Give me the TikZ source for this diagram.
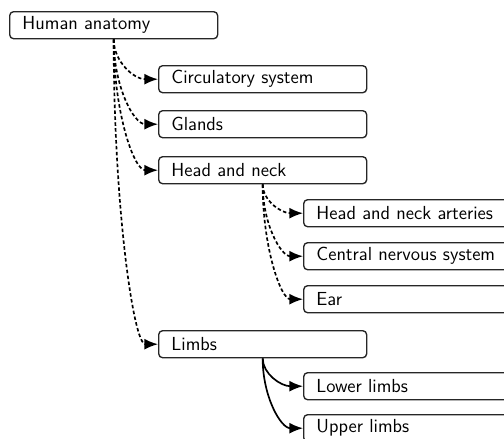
\documentclass[tikz,border=0pt]{standalone}
\usetikzlibrary{arrows.meta,calc}
\begin{document}
\begin{tikzpicture}[x=0.625pt,y=-0.625pt,
  item/.style={draw=black!85, rounded corners=2.5pt, line width=0.85pt, anchor=north west,
    minimum height=16.9pt, text width=114pt, inner xsep=8pt, inner ysep=0pt,
    align=left, font=\sffamily\fontsize{11.8pt}{14pt}\selectfont},
  wide/.style={item, text width=160pt},
  link/.style={line width=1.05pt, -{Latex[length=8.5pt,width=6.8pt]}},
  dotlink/.style={link, dash pattern=on 2.2pt off 1.5pt}]
\useasboundingbox (0,0) rectangle (504,438);
% top level
\node[item] (root) at (9,11) {Human anatomy};
% second level
\node[item] (circ) at (158,65) {Circulatory system};
\node[item] (glands) at (158,110) {Glands};
\node[item] (head) at (158,156) {Head and neck};
\node[item] (limbs) at (158,330) {Limbs};
% head and neck children
\node[wide] (arteries) at (303,199) {Head and neck arteries};
\node[wide] (cns) at (303,242) {Central nervous system};
\node[wide] (ear) at (303,285) {Ear};
% limbs children
\node[wide] (lower) at (303,372) {Lower limbs};
\node[wide] (upper) at (303,414) {Upper limbs};
% connectors: quarter-ellipse bends from a parent's bottom to a child's left side
\newcommand\branch[3]{%
  \draw[#1] (#2.south) .. controls ($(#2.south)!0.55!(#2.south |- #3.west)$)
    and ($(#3.west)!0.55!(#2.south |- #3.west)$) .. (#3.west);}
\foreach \c in {circ,glands,head,limbs} {\branch{dotlink}{root}{\c}}
\foreach \c in {arteries,cns,ear} {\branch{dotlink}{head}{\c}}
\foreach \c in {lower,upper} {\branch{link}{limbs}{\c}}
\end{tikzpicture}
\end{document}
